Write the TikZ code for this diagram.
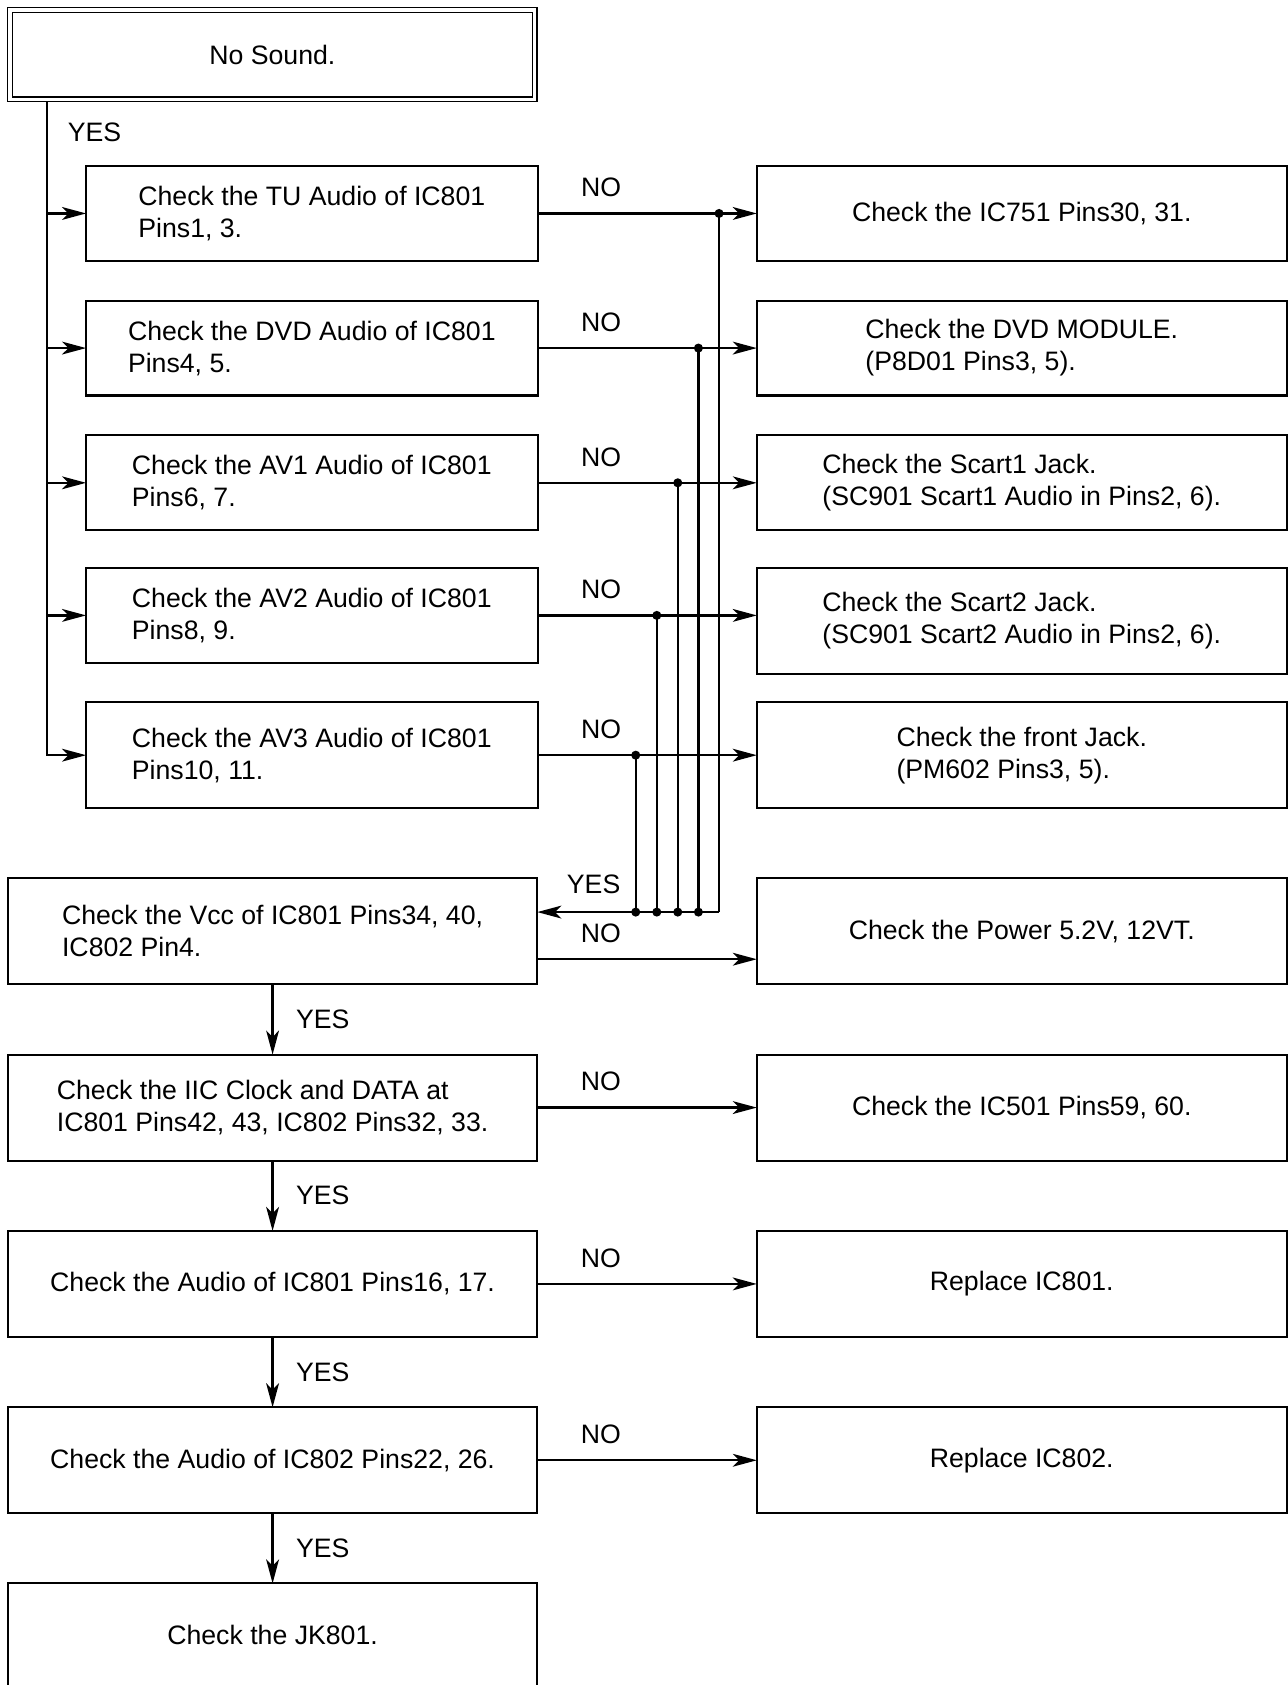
\documentclass[tikz,border=0pt]{standalone}
\usepackage{fontspec}
\setmainfont{Liberation Sans}
\usetikzlibrary{arrows.meta}

\begin{document}
\begin{tikzpicture}[x=0.4032pt,y=-0.4032pt,line width=0.9pt,
    >={Stealth[length=9pt,width=4.8pt,inset=2.4pt]},
    dot/.style={circle,fill,inner sep=0pt,minimum size=3.4pt}]

      \useasboundingbox (0,0) rectangle (1197,1567);

      \node[draw,double,double distance=1.2pt,line width=0.55pt,outer sep=1.15pt,
            minimum width=196.7pt,minimum height=33.4pt] (start) at (253.3,50.8) {No Sound.};

      % first column of checks
      \begin{scope}[every node/.style={draw,line width=0.8pt,align=left,inner sep=0pt,
            outer sep=0pt,minimum width=169.3pt,minimum height=35.6pt}]
        \node (tu)  at (290,198.5) {Check the TU Audio of IC801\\Pins1, 3.};
        \node (dvd) at (290,323.7) {Check the DVD Audio of IC801\\Pins4, 5.};
        \node (av1) at (290,449)   {Check the AV1 Audio of IC801\\Pins6, 7.};
        \node (av2) at (290,572.3) {Check the AV2 Audio of IC801\\Pins8, 9.};
        \node[minimum height=39.7pt] (av3) at (290,702.3) {Check the AV3 Audio of IC801\\Pins10, 11.};
      \end{scope}

      % right column
      \begin{scope}[every node/.style={draw,line width=0.8pt,align=left,inner sep=0pt,
            outer sep=0pt,minimum width=198.7pt,minimum height=35.6pt}]
        \node (ic751) at (950.2,198.5) {Check the IC751 Pins30, 31.};
        \node (dvdm)  at (950.2,323.7) {Check the DVD MODULE.\\(P8D01 Pins3, 5).};
        \node (sc1)   at (950.2,449)   {Check the Scart1 Jack.\\(SC901 Scart1 Audio in Pins2, 6).};
        \node[minimum height=39.9pt] (sc2)   at (950.2,577.5) {Check the Scart2 Jack.\\(SC901 Scart2 Audio in Pins2, 6).};
        \node[minimum height=39.7pt] (front) at (950.2,702.3) {Check the front Jack.\\(PM602 Pins3, 5).};
        \node[minimum height=39.75pt] (power) at (950.2,866)  {Check the Power 5.2V, 12VT.};
        \node[minimum height=39.75pt] (ic501) at (950.2,1030) {Check the IC501 Pins59, 60.};
        \node[minimum height=39.75pt] (rep1)  at (950.2,1194) {Replace IC801.};
        \node[minimum height=39.75pt] (rep2)  at (950.2,1358) {Replace IC802.};
      \end{scope}

      % main column
      \begin{scope}[every node/.style={draw,line width=0.8pt,align=left,inner sep=0pt,
            outer sep=0pt,minimum width=198.5pt,minimum height=39.75pt}]
        \node (vcc)  at (253.5,866)  {Check the Vcc of IC801 Pins34, 40,\\IC802 Pin4.};
        \node (iic)  at (253.5,1030) {Check the IIC Clock and DATA at\\IC801 Pins42, 43, IC802 Pins32, 33.};
        \node (aud1) at (253.5,1194) {Check the Audio of IC801 Pins16, 17.};
        \node (aud2) at (253.5,1358) {Check the Audio of IC802 Pins22, 26.};
        \node[minimum height=38.7pt] (jk) at (253.5,1520.5) {Check the JK801.};
      \end{scope}

      % YES spine
      \coordinate (spine) at (43.7,95);
      \draw[->] (start.south -| spine) |- (av3.west);
      \foreach \n in {tu,dvd,av1,av2}
        \draw[->] (spine |- \n.west) -- (\n.west);
      \node[anchor=west] (yes0) at (53.7,123) {YES};

      % NO branches and bus back to Vcc
      \foreach \b/\x in {1/668.7,2/649.5,3/630.3,4/610.8,5/591.2}
        \coordinate (b\b) at (\x,848.2);

      \draw[->] (tu.east)  -- node[above=2.4pt,pos=.29] {NO} (tu.east -| ic751.west);
      \draw[->] (dvd.east) -- node[above=2.4pt,pos=.29] {NO} (dvd.east -| dvdm.west);
      \draw[->] (av1.east) -- node[above=2.4pt,pos=.29] {NO} (av1.east -| sc1.west);
      \draw[->] (av2.east) -- node[above=2.4pt,pos=.29] {NO} (av2.east -| sc2.west);
      \draw[->] (av3.east) -- node[above=2.4pt,pos=.29] {NO} (av3.east -| front.west);

      \draw (b1 |- tu.east)  -- (b1);
      \draw (b2 |- dvd.east) -- (b2);
      \draw (b3 |- av1.east) -- (b3);
      \draw (b4 |- av2.east) -- (b4);
      \draw (b5 |- av3.east) -- (b5);
      \draw[->] (b1) -- node[above=3.1pt,pos=.69] {YES} (vcc.east |- b1);

      \node[dot] (d1) at (b1 |- tu.east) {};
      \node[dot] (d2) at (b2 |- dvd.east) {};
      \node[dot] (d3) at (b3 |- av1.east) {};
      \node[dot] (d4) at (b4 |- av2.east) {};
      \node[dot] (d5) at (b5 |- av3.east) {};
      \foreach \b in {2,3,4,5}
        \node[dot] (e\b) at (b\b) {};

      % lower checks
      \coordinate (vno) at ([yshift=-10.5pt]vcc.east);
      \draw[->] (vno)       -- node[above=2.4pt,pos=.29] {NO} (vno -| power.west);
      \draw[->] (iic.east)  -- node[above=2.4pt,pos=.29] {NO} (ic501.west);
      \draw[->] (aud1.east) -- node[above=2.4pt,pos=.29] {NO} (rep1.west);
      \draw[->] (aud2.east) -- node[above=2.4pt,pos=.29] {NO} (rep2.west);

      \path (vcc)  edge[->] node[right=5pt] {YES} (iic);
      \path (iic)  edge[->] node[right=5pt] {YES} (aud1);
      \path (aud1) edge[->] node[right=5pt] {YES} (aud2);
      \path (aud2) edge[->] node[right=5pt] {YES} (jk);

\end{tikzpicture}
\end{document}
